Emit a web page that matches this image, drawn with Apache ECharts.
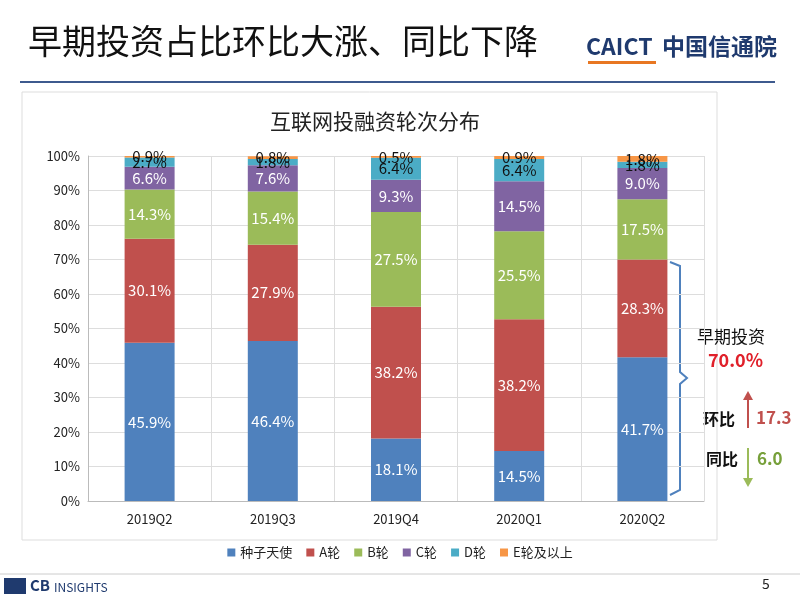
<!DOCTYPE html>
<html><head><meta charset="utf-8">
<script src="https://cdn.jsdelivr.net/npm/echarts@6/dist/echarts.min.js"></script>
<style>html,body{margin:0;padding:0;background:#fff}#c{width:800px;height:600px}</style>
</head><body><div id="c"></div>
<script>
const categories = ['2019Q2','2019Q3','2019Q4','2020Q1','2020Q2'];
const seriesNames = ['种子天使','A轮','B轮','C轮','D轮','E轮及以上'];
const seed = [45.9, 46.4, 18.1, 14.5, 41.7];
const roundA = [30.1, 27.9, 38.2, 38.2, 28.3];
const roundB = [14.3, 15.4, 27.5, 25.5, 17.5];
const roundC = [6.6, 7.6, 9.3, 14.5, 9.0];
const roundD = [2.7, 1.8, 6.4, 6.4, 1.8];
const roundE = [0.9, 0.8, 0.5, 0.9, 1.8];
const yTicks = ['0%','10%','20%','30%','40%','50%','60%','70%','80%','90%','100%'];
const colors = ['#4f81bd','#c0504d','#9bbb59','#8064a2','#4bacc6','#f79646'];
const values = [seed, roundA, roundB, roundC, roundD, roundE];
const F = '"Noto Sans CJK SC","Noto Sans",sans-serif';

const chart = echarts.init(document.getElementById('c'));
chart.setOption({
  animation:false,
  color: colors,
  title:{text:'互联网投融资轮次分布', left:370, top:106, textAlign:'center',
    textStyle:{fontFamily:F,fontSize:21,fontWeight:'normal',color:'#222'}},
  legend:{bottom:36, left:'center', itemWidth:8, itemHeight:8, icon:'rect', itemGap:14,
    textStyle:{fontFamily:F,fontSize:13,color:'#222'}},
  grid:{left:88, right:96, top:156, bottom:99},
  xAxis:{type:'category', data:categories,
    axisLine:{lineStyle:{color:'#bbb'}}, axisTick:{show:false},
    splitLine:{show:true,lineStyle:{color:'#ddd'}},
    axisLabel:{fontFamily:F,fontSize:13,color:'#222',margin:12}},
  yAxis:{type:'value', min:0, max:100, interval:10,
    axisLabel:{fontFamily:F,fontSize:13,color:'#222',formatter:v=>yTicks[v/10]},
    axisLine:{show:true,lineStyle:{color:'#bbb'}},
    splitLine:{lineStyle:{color:'#ddd'}}},
  series: seriesNames.map((n,i)=>({
    name:n, type:'bar', stack:'s', barWidth:50, data:values[i],
    label:{show:true, formatter:p=>p.value.toFixed(1)+'%', fontFamily:F,
      fontSize:15, color: i>=4 ? '#111' : '#fff', position:'inside'}
  })),
  graphic:[
    {type:'text', left:28, top:24, style:{text:'早期投资占比环比大涨、同比下降', font:'34px '+F, fill:'#111'}},
    {type:'text', left:586, top:35, style:{text:'CAICT', font:'bold 23px '+F, fill:'#1f3a6e'}},
    {type:'rect', shape:{x:588,y:61,width:68,height:3}, style:{fill:'#e87722'}},
    {type:'text', left:662, top:35, style:{text:'中国信通院', font:'bold 23px '+F, fill:'#1f3a6e'}},
    {type:'line', shape:{x1:20,y1:82,x2:775,y2:82}, style:{stroke:'#3e5a8e',lineWidth:2}},
    {type:'rect', shape:{x:22,y:92,width:695,height:448}, style:{fill:'none',stroke:'#ddd',lineWidth:1}},
    {type:'polyline', shape:{points:[[670,262],[680,266],[680,372],[687,378],[680,384],[680,490],[670,495]]}, style:{stroke:'#4f81bd',lineWidth:2,fill:'none'}},
    {type:'text', left:697, top:328, style:{text:'早期投资', font:'17px '+F, fill:'#111'}},
    {type:'text', left:708, top:351, style:{text:'70.0%', font:'bold 18px '+F, fill:'#e0202a'}},
    {type:'line', shape:{x1:748,y1:428,x2:748,y2:398}, style:{stroke:'#c0504d',lineWidth:2}},
    {type:'polygon', shape:{points:[[743,400],[753,400],[748,391]]}, style:{fill:'#c0504d'}},
    {type:'text', left:703, top:411, style:{text:'环比', font:'bold 16px '+F, fill:'#111'}},
    {type:'text', left:756, top:409, style:{text:'17.3', font:'bold 17px '+F, fill:'#c0504d'}},
    {type:'line', shape:{x1:748,y1:448,x2:748,y2:480}, style:{stroke:'#9bbb59',lineWidth:2}},
    {type:'polygon', shape:{points:[[743,478],[753,478],[748,487]]}, style:{fill:'#9bbb59'}},
    {type:'text', left:706, top:451, style:{text:'同比', font:'bold 16px '+F, fill:'#111'}},
    {type:'text', left:757, top:450, style:{text:'6.0', font:'bold 17px '+F, fill:'#77a03a'}},
    {type:'line', shape:{x1:0,y1:574,x2:800,y2:574}, style:{stroke:'#ccc',lineWidth:1}},
    {type:'rect', shape:{x:4,y:578,width:22,height:16}, style:{fill:'#1f3a6e'}},
    {type:'text', left:30, top:578, style:{text:'CB', font:'bold 15px '+F, fill:'#1f3a6e'}},
    {type:'text', left:54, top:581, style:{text:'INSIGHTS', font:'12px '+F, fill:'#1f3a6e'}},
    {type:'text', left:762, top:577, style:{text:'5', font:'14px '+F, fill:'#222'}}
  ]
});
</script></body></html>
